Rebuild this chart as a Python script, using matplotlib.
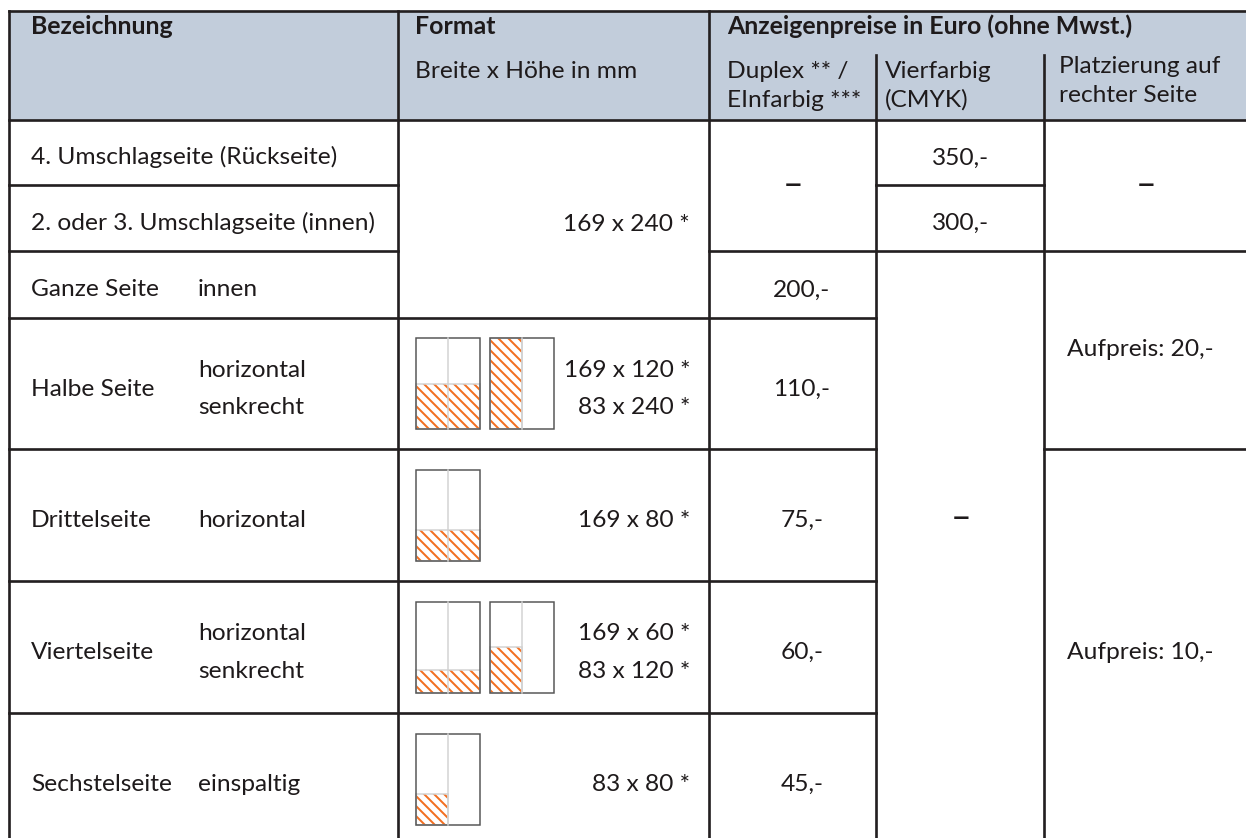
import matplotlib
matplotlib.use("Agg")
import matplotlib.pyplot as plt
from matplotlib.patches import Rectangle

# ---- table content ----
header_main = ["Bezeichnung", "Format", "Anzeigenpreise in Euro (ohne Mwst.)"]
header_format = ["Breite x Höhe in mm"]
header_prices = [["Duplex ** /", "EInfarbig ***"], ["Vierfarbig", "(CMYK)"],
                 ["Platzierung auf", "rechter Seite"]]

names = ["4. Umschlagseite (Rückseite)", "2. oder 3. Umschlagseite (innen)",
         "Ganze Seite", "Halbe Seite", "Drittelseite", "Viertelseite",
         "Sechstelseite"]
variants = [[], [], ["innen"], ["horizontal", "senkrecht"], ["horizontal"],
            ["horizontal", "senkrecht"], ["einspaltig"]]
formats = [["169 x 240 *"], ["169 x 120 *", "83 x 240 *"], ["169 x 80 *"],
           ["169 x 60 *", "83 x 120 *"], ["83 x 80 *"]]
format_rows = [(0, 2), (3, 3), (4, 4), (5, 5), (6, 6)]
duplex = ["–", "200,-", "110,-", "75,-", "60,-", "45,-"]
duplex_rows = [(0, 1), (2, 2), (3, 3), (4, 4), (5, 5), (6, 6)]
vierfarbig = ["350,-", "300,-", "–"]
vierfarbig_rows = [(0, 0), (1, 1), (4, 4)]
platzierung = ["–", "Aufpreis: 20,-", "Aufpreis: 10,-"]
platzierung_rows = [(0, 1), (2, 3), (4, 6)]

# page icons: row -> list of (hatch x frac, hatch width frac, hatch height frac)
icons = {3: [(0, 1, 0.5), (0, 0.5, 1)],
         4: [(0, 1, 1 / 3)],
         5: [(0, 1, 0.25), (0, 0.5, 0.5)],
         6: [(0, 0.5, 1 / 3)]}

# ---- layout (pixel grid) ----
W, H = 1246, 838
col_x = [9, 398, 709, 876, 1044, 1246]
row_y = [120, 185, 251, 318, 449, 581, 713, 845]
top, sub_top = 11, 55
line_c = "#231f20"
txt_c = "#1e1a1b"
head_bg = "#c2cddb"
orange = "#f26f21"
body_font = "Lato"
fs = 14.7
fs_head = 14.9
lh = 37

plt.rcParams["hatch.linewidth"] = 1.2
dpi = 120
fig = plt.figure(figsize=(W / dpi, H / dpi), dpi=dpi)
ax = fig.add_axes([0, 0, 1, 1])
ax.set_xlim(0, W)
ax.set_ylim(H, 0)
ax.axis("off")

ax.add_patch(Rectangle((col_x[0], top), W - col_x[0], row_y[0] - top,
                       facecolor=head_bg, edgecolor="none"))

lw = 1.6
def hline(y, x0, x1):
    ax.plot([x0, x1], [y, y], color=line_c, lw=lw, solid_capstyle="projecting")

def vline(x, y0, y1):
    ax.plot([x, x], [y0, y1], color=line_c, lw=lw, solid_capstyle="projecting")

hline(top, col_x[0], W)
hline(row_y[0], col_x[0], W)
hline(row_y[1], col_x[0], col_x[1]); hline(row_y[1], col_x[3], col_x[4])
hline(row_y[2], col_x[0], col_x[1]); hline(row_y[2], col_x[2], W)
hline(row_y[3], col_x[0], col_x[3])
hline(row_y[4], col_x[0], col_x[3]); hline(row_y[4], col_x[4], W)
hline(row_y[5], col_x[0], col_x[3])
hline(row_y[6], col_x[0], col_x[3])
for x in col_x[:3]:
    vline(x, top, H + 5)
for x in col_x[3:5]:
    vline(x, sub_top, H + 5)

def put(lines, x, r0, r1, ha="left", dy=0):
    yc = (row_y[r0] + row_y[r1 + 1]) / 2 + 12 + dy
    n = len(lines)
    for i, s in enumerate(lines):
        # dash drawn a bit bigger, the original en dash is wide
        size = fs * 1.45 if s == "–" else fs
        ax.text(x, yc + (i - (n - 1) / 2) * lh, s, ha=ha, va="baseline",
                fontsize=size, family=body_font, color=txt_c)

# header
head_x = [31, 415, 727]
for x, s in zip(head_x, header_main):
    ax.text(x, 34, s, fontsize=fs_head, fontweight="bold", family=body_font,
            color=txt_c, va="baseline")
ax.text(415, 78, header_format[0], fontsize=fs, family=body_font,
        color=txt_c, va="baseline")
for (l1, l2), x, y in zip(header_prices, [727, 885, 1059], [78, 78, 73]):
    ax.text(x, y, l1, fontsize=fs, family=body_font, color=txt_c, va="baseline")
    ax.text(x, y + 29, l2, fontsize=fs, family=body_font, color=txt_c, va="baseline")

# body
for i, (nm, var) in enumerate(zip(names, variants)):
    put([nm], 31, i, i)
    if var:
        put(var, 198, i, i)

for lines, (r0, r1) in zip(formats, format_rows):
    put(lines, 690, r0, r1, ha="right")

for s, (r0, r1) in zip(duplex, duplex_rows):
    put([s], 802 if s != "–" else 793, r0, r1, ha="center",
        dy=-2 if s == "–" else 0)
for s, (r0, r1) in zip(vierfarbig, vierfarbig_rows):
    put([s], 961, r0, r1, ha="center", dy=2 if s == "–" else 0)
for s, (r0, r1) in zip(platzierung, platzierung_rows):
    put([s], 1140 if s != "–" else 1146, r0, r1, ha="center",
        dy=-6 if r0 == 2 else (-2 if s == "–" else 0))

# page icons
iw, ih, gap = 64, 91, 74
for r, specs in icons.items():
    yc = (row_y[r] + row_y[r + 1]) / 2
    y0 = yc - ih / 2
    for k, (fx, fw, fh) in enumerate(specs):
        x0 = 416 + k * gap
        hx, hy, hw, hh = x0 + fx * iw, y0 + ih * (1 - fh), fw * iw, fh * ih
        ax.add_patch(Rectangle((x0, y0), iw, ih, facecolor="white",
                               edgecolor="none"))
        ax.plot([x0 + iw / 2, x0 + iw / 2], [y0, y0 + ih], color="#d2d2d2", lw=0.9)
        ax.add_patch(Rectangle((hx, hy), hw, hh, facecolor="white",
                               edgecolor=orange, lw=0, hatch="\\" * 4))
        ax.add_patch(Rectangle((hx, hy), hw, hh, facecolor="none",
                               edgecolor="#d2d2d2", lw=0.9))
        ax.add_patch(Rectangle((x0, y0), iw, ih, facecolor="none",
                               edgecolor="#555555", lw=0.9))

fig.savefig("out.png", dpi=dpi)
